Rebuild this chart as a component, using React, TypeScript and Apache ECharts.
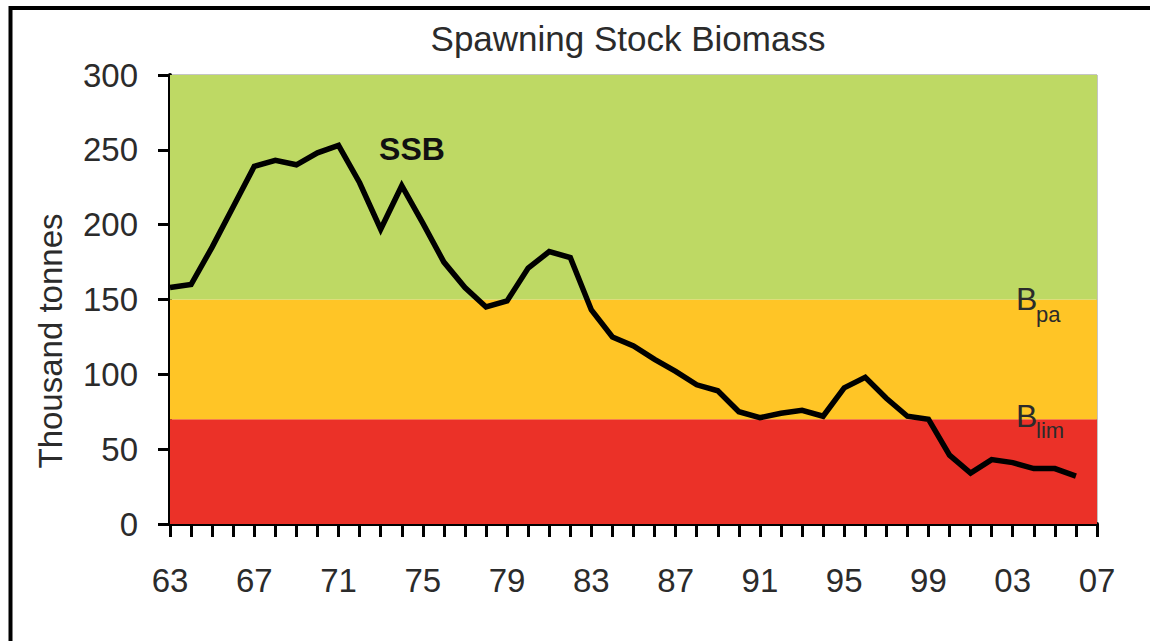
import React, { useEffect, useRef } from "react";
import * as echarts from "echarts";

const years = [
  1963, 1964, 1965, 1966, 1967, 1968, 1969, 1970, 1971, 1972, 1973, 1974, 1975, 1976, 1977,
  1978, 1979, 1980, 1981, 1982, 1983, 1984, 1985, 1986, 1987, 1988, 1989, 1990, 1991, 1992,
  1993, 1994, 1995, 1996, 1997, 1998, 1999, 2000, 2001, 2002, 2003, 2004, 2005, 2006,
];
const ssb = [
  158, 160, 185, 212, 239, 243, 240, 248, 253, 228, 197, 226, 201, 175, 158,
  145, 149, 171, 182, 178, 143, 125, 119, 110, 102, 93, 89, 75, 71, 74,
  76, 72, 91, 98, 84, 72, 70, 46, 34, 43, 41, 37, 37, 32,
];
const bpa = 150;
const blim = 70;
const yMax = 300;
const bandColors = ["#EB3128", "#FFC526", "#BED964"];
const xMin = 1963;
const xMax = 2007;

const FONT = "'Liberation Sans', Arial, sans-serif";
const TXT = "#2b2b2b";

export default function App() {
  const ref = useRef<HTMLDivElement>(null);
  useEffect(() => {
    document.body.style.margin = "0";
    const chart = echarts.init(ref.current!, null, { renderer: "svg" });
    const bands = [
      [0, blim],
      [blim, bpa],
      [bpa, yMax],
    ];
    chart.setOption({
      animation: false,
      backgroundColor: "#ffffff",
      title: {
        text: "Spawning Stock Biomass",
        left: 628,
        top: 21,
        padding: 0,
        textAlign: "center",
        textStyle: { fontSize: 35, fontWeight: "normal", color: TXT, fontFamily: FONT },
      },
      grid: {
        left: 170,
        right: 53,
        top: 75,
        bottom: 117,
        show: true,
        borderColor: "#8a8a8a",
        borderWidth: 1,
        backgroundColor: "transparent",
      },
      xAxis: {
        type: "value",
        min: xMin,
        max: xMax,
        interval: 1,
        axisLine: { show: true, onZero: false, lineStyle: { color: "#000", width: 4 } },
        axisTick: { show: true, length: 13, lineStyle: { color: "#000", width: 3 } },
        splitLine: { show: false },
        axisLabel: {
          margin: 40,
          fontSize: 33,
          color: TXT,
          fontFamily: FONT,
          formatter: (v: number) =>
            (v - xMin) % 4 === 0 ? String(v % 100).padStart(2, "0") : "",
        },
      },
      yAxis: {
        type: "value",
        min: 0,
        max: yMax,
        interval: 50,
        axisLine: { show: true, lineStyle: { color: "#000", width: 4 } },
        axisTick: { show: true, length: 12, lineStyle: { color: "#000", width: 3 } },
        splitLine: { show: false },
        axisLabel: { margin: 32, fontSize: 33, color: TXT, fontFamily: FONT },
      },
      series: [
        {
          type: "line",
          name: "bands",
          data: [],
          z: 1,
          silent: true,
          markArea: {
            silent: true,
            data: bands.map((b, i) => [
              { yAxis: b[0], itemStyle: { color: bandColors[i] } },
              { yAxis: b[1] },
            ]),
          },
        },
        {
          type: "line",
          name: "SSB",
          z: 5,
          data: years.map((y, i) => [y, ssb[i]]),
          showSymbol: false,
          symbol: "none",
          lineStyle: { color: "#000", width: 5.5, join: "miter" },
        },
      ],
      graphic: [
        {
          type: "rect",
          shape: { x: 10.5, y: 8, width: 1300, height: 800 },
          style: { fill: "none", stroke: "#000", lineWidth: 4 },
          silent: true,
          z: 100,
        },
        {
          type: "text",
          x: 50,
          y: 341,
          rotation: Math.PI / 2,
          style: {
            text: "Thousand tonnes",
            fontSize: 33,
            fontFamily: FONT,
            fill: TXT,
            textAlign: "center",
            textVerticalAlign: "middle",
          },
        },
        {
          type: "text",
          x: 412,
          y: 149,
          style: {
            text: "SSB",
            fontSize: 32,
            fontWeight: "bold",
            fontFamily: FONT,
            fill: "#111",
            textAlign: "center",
            textVerticalAlign: "middle",
          },
          z: 10,
        },
        {
          type: "text",
          x: 1016,
          y: 299,
          style: { text: "B", fontSize: 32, fontFamily: FONT, fill: TXT, textAlign: "left", textVerticalAlign: "middle" },
          z: 10,
        },
        {
          type: "text",
          x: 1036,
          y: 314,
          style: { text: "pa", fontSize: 22, fontFamily: FONT, fill: TXT, textAlign: "left", textVerticalAlign: "middle" },
          z: 10,
        },
        {
          type: "text",
          x: 1016,
          y: 416,
          style: { text: "B", fontSize: 32, fontFamily: FONT, fill: TXT, textAlign: "left", textVerticalAlign: "middle" },
          z: 10,
        },
        {
          type: "text",
          x: 1036,
          y: 430,
          style: { text: "lim", fontSize: 22, fontFamily: FONT, fill: TXT, textAlign: "left", textVerticalAlign: "middle" },
          z: 10,
        },
      ],
    });
    return () => chart.dispose();
  }, []);
  return (
    <div
      ref={ref}
      style={{ position: "absolute", left: 0, top: 0, width: 1150, height: 641 }}
    />
  );
}
